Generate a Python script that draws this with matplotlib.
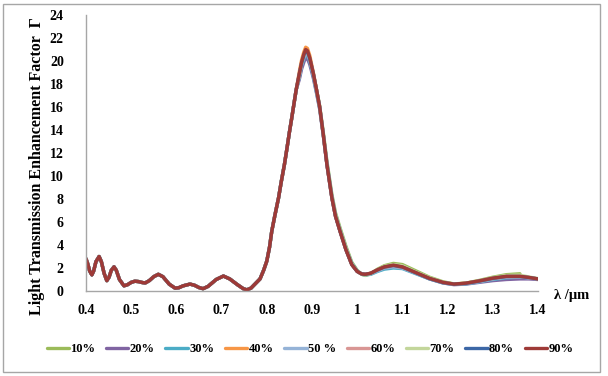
import numpy as np
import matplotlib
matplotlib.use("Agg")
import matplotlib.pyplot as plt
from matplotlib.patches import Rectangle

plt.rcParams["font.family"] = ["Liberation Serif", "DejaVu Serif"]
plt.rcParams["font.weight"] = "bold"

# ── Datos ──────────────────────────────────────────────────────────────────
# tramo comun (todas las curvas coinciden)
lam_comun = [0.400, 0.404, 0.408, 0.413, 0.417, 0.422, 0.429, 0.434, 0.440, 0.446,
             0.451, 0.456, 0.462, 0.467, 0.474, 0.484, 0.492, 0.500, 0.508, 0.516,
             0.524, 0.531, 0.540, 0.550, 0.560, 0.570, 0.584, 0.597, 0.605, 0.615,
             0.630, 0.640, 0.650, 0.659, 0.670, 0.688, 0.704, 0.718, 0.735, 0.748,
             0.756, 0.765, 0.775, 0.785, 0.793, 0.800, 0.806, 0.811, 0.818, 0.826,
             0.832, 0.839, 0.845, 0.850, 0.855, 0.859, 0.865]
gam_comun = [2.80, 2.35, 1.75, 1.40, 1.75, 2.55, 3.00, 2.55, 1.55, 0.90,
             1.20, 1.80, 2.10, 1.80, 1.00, 0.45, 0.55, 0.75, 0.85, 0.82,
             0.74, 0.70, 0.90, 1.25, 1.45, 1.25, 0.60, 0.25, 0.28, 0.45,
             0.60, 0.50, 0.30, 0.20, 0.40, 1.00, 1.30, 1.05, 0.55, 0.20,
             0.10, 0.25, 0.65, 1.05, 1.80, 2.60, 3.80, 5.20, 6.60, 8.10,
             9.50, 11.0, 12.5, 13.8, 15.0, 16.0, 17.5]

# tramo donde las curvas se separan
lam_cola = [0.872, 0.877, 0.882, 0.886, 0.890, 0.895, 0.903, 0.910, 0.917, 0.925,
            0.933, 0.944, 0.952, 0.962, 0.975, 0.988, 1.000, 1.010, 1.018, 1.030,
            1.045, 1.060, 1.080, 1.100, 1.130, 1.160, 1.190, 1.214, 1.240, 1.270,
            1.300, 1.330, 1.360, 1.380, 1.400]
nan = np.nan
g10 = [18.7, 19.6, 20.2, 20.6, 20.5, 20.0, 18.8, 17.5, 16.1, 13.8,
       11.3, 8.4, 6.8, 5.5, 3.9, 2.5, 1.80, 1.45, 1.35, 1.50,
       1.90, 2.20, 2.40, 2.30, 1.75, 1.20, 0.80, 0.62, 0.68, 0.92,
       1.20, 1.42, 1.50, nan, nan]
g20 = [18.4, 19.3, 19.9, 20.3, 20.2, 19.7, 18.5, 17.2, 15.8, 13.5,
       11.0, 8.1, 6.5, 5.2, 3.6, 2.3, 1.70, 1.48, 1.45, 1.53,
       1.80, 2.05, 2.20, 2.05, 1.55, 1.05, 0.70, 0.55, 0.60, 0.75,
       0.90, 1.00, 1.05, 1.05, 1.00]
g30 = [18.6, 19.6, 20.2, 20.6, 20.5, 20.0, 18.7, 17.3, 15.9, 13.6,
       11.1, 8.2, 6.6, 5.3, 3.7, 2.4, 1.75, 1.45, 1.40, 1.45,
       1.70, 1.90, 2.00, 1.95, 1.50, 1.05, 0.70, 0.58, 0.62, 0.80,
       1.00, 1.15, 1.20, 1.15, 1.05]
g40 = [19.1, 20.1, 20.8, 21.2, 21.1, 20.5, 19.0, 17.5, 16.0, 13.6,
       11.0, 8.1, 6.5, 5.2, 3.6, 2.3, 1.70, 1.48, 1.45, 1.55,
       1.85, 2.10, 2.25, 2.10, 1.60, 1.10, 0.75, 0.60, 0.68, 0.88,
       1.12, 1.28, 1.28, 1.18, 1.05]
g50 = [18.7, 19.7, 20.3, 20.7, 20.6, 20.1, 18.8, 17.4, 16.0, 13.6,
       11.1, 8.2, 6.6, 5.3, 3.7, 2.35, 1.72, 1.46, 1.42, 1.50,
       1.75, 2.00, 2.10, 2.00, 1.55, 1.08, 0.72, 0.58, 0.64, 0.82,
       1.05, 1.20, 1.22, 1.15, 1.05]
g60 = [18.8, 19.8, 20.4, 20.8, 20.7, 20.2, 18.9, 17.5, 16.0, 13.6,
       11.0, 8.1, 6.5, 5.2, 3.6, 2.3, 1.70, 1.48, 1.44, 1.53,
       1.82, 2.05, 2.20, 2.05, 1.58, 1.08, 0.73, 0.59, 0.66, 0.85,
       1.08, 1.24, 1.25, 1.16, 1.05]
g70 = [18.8, 19.8, 20.5, 20.9, 20.8, 20.2, 18.9, 17.5, 16.0, 13.7,
       11.1, 8.2, 6.6, 5.3, 3.7, 2.35, 1.72, 1.45, 1.40, 1.52,
       1.85, 2.15, 2.30, 2.20, 1.65, 1.15, 0.77, 0.60, 0.68, 0.90,
       1.15, 1.35, 1.38, 1.22, 1.08]
g80 = [18.9, 19.8, 20.5, 20.9, 20.8, 20.2, 18.9, 17.5, 16.0, 13.6,
       11.0, 8.1, 6.5, 5.2, 3.6, 2.3, 1.70, 1.48, 1.45, 1.54,
       1.83, 2.08, 2.22, 2.08, 1.58, 1.08, 0.73, 0.59, 0.66, 0.86,
       1.10, 1.26, 1.26, 1.17, 1.05]
g90 = [18.9, 19.9, 20.6, 21.0, 20.9, 20.3, 18.9, 17.5, 16.0, 13.6,
       11.0, 8.1, 6.5, 5.2, 3.6, 2.3, 1.70, 1.48, 1.45, 1.55,
       1.85, 2.10, 2.25, 2.10, 1.60, 1.10, 0.75, 0.60, 0.68, 0.88,
       1.12, 1.28, 1.28, 1.18, 1.05]

series = ["10%", "20%", "30%", "40%", "50 %", "60%", "70%", "80%", "90%"]
colas = [g10, g20, g30, g40, g50, g60, g70, g80, g90]
colores = ["#9BBB59", "#8064A2", "#4BACC6", "#F79646", "#95B3D7",
           "#D99694", "#C3D69B", "#3C67A6", "#9E3A37"]

x_ticks = [0.4, 0.5, 0.6, 0.7, 0.8, 0.9, 1.0, 1.1, 1.2, 1.3, 1.4]
x_labels = ["0.4", "0.5", "0.6", "0.7", "0.8", "0.9", "1", "1.1", "1.2", "1.3", "1.4"]
y_ticks = list(range(0, 25, 2))

# ── Grafico ────────────────────────────────────────────────────────────────
fig = plt.figure(figsize=(6.08, 3.76), dpi=100)
ax = fig.add_axes([86 / 608, 1 - 291 / 376, (538 - 86) / 608, (291 - 15) / 376])

lam = np.array(lam_comun + lam_cola)
for nombre, cola, c in zip(series, colas, colores):
    ax.plot(lam, np.array(gam_comun + cola), color=c, lw=2.4, label=nombre,
            solid_capstyle="round", solid_joinstyle="round")

ax.set_xlim(0.4, 1.4)
ax.set_ylim(0, 24)
ax.set_xticks(x_ticks)
ax.set_xticklabels(x_labels)
ax.set_yticks(y_ticks)
ax.tick_params(axis="both", length=0, labelsize=10)
ax.tick_params(axis="y", pad=16)
ax.tick_params(axis="x", pad=9)
for s in ["top", "right"]:
    ax.spines[s].set_visible(False)
for s in ["left", "bottom"]:
    ax.spines[s].set_color("#A6A6A6")
    ax.spines[s].set_linewidth(1.0)

fig.text(37 / 608, 1 - 166 / 376, "Light Transmission Enhancement Factor  Γ",
         rotation=90, ha="center", va="center", fontsize=11.5, fontweight="bold")
fig.text(572 / 608, 1 - 295 / 376, "λ /μm", ha="center", va="center",
         fontsize=10.5, fontweight="bold")

fig.legend(loc="center", bbox_to_anchor=(310 / 608, 1 - 349 / 376), ncol=9,
           frameon=False, fontsize=9, handlelength=1.8, handletextpad=0.1,
           columnspacing=0.85, borderaxespad=0)

fig.patches.append(Rectangle((3 / 608, 4 / 376), 597 / 608, 368 / 376,
                             transform=fig.transFigure, fill=False,
                             edgecolor="#A6A6A6", lw=1.0))

fig.savefig("out.png", dpi=100)
plt.close()
